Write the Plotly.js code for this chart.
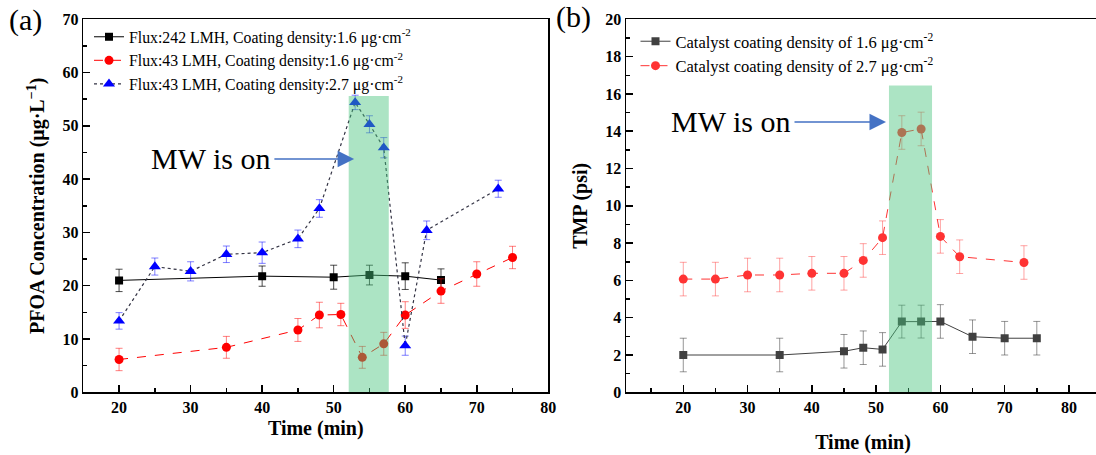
<!DOCTYPE html>
<html><head><meta charset="utf-8">
<script src="https://cdn.plot.ly/plotly-3.0.1.min.js"></script>
<style>html,body{margin:0;padding:0;overflow:hidden;background:#fff}#chart{width:1100px;height:455px}</style>
</head><body><div id="chart"></div>
<script>
// ---------- Panel (a): PFOA concentration ----------
const timeA1 = [20, 40, 50, 55, 60, 65];
const pfoaA1 = [21.0, 21.8, 21.6, 22.0, 21.8, 21.06];
const errA1  = [2.1, 1.9, 2.25, 1.85, 2.5, 2.1];
const nameA1 = 'Flux:242 LMH, Coating density:1.6 μg·cm<sup>-2</sup>';

const timeA2 = [20, 35, 45, 48, 51, 54, 57, 60, 65, 70, 75];
const pfoaA2 = [6.16, 8.44, 11.7, 14.5, 14.6, 6.56, 9.1, 14.5, 19.0, 22.2, 25.3];
const errA2  = [2.1, 2.05, 2.15, 2.4, 2.1, 2.05, 2.15, 2.5, 2.3, 2.3, 2.1];
const nameA2 = 'Flux:43 LMH, Coating density:1.6 μg·cm<sup>-2</sup>';

const timeA3 = [20, 25, 30, 35, 40, 45, 48, 53, 55, 57, 60, 63, 73];
const pfoaA3 = [13.4, 23.6, 22.7, 25.9, 26.2, 28.8, 34.5, 54.4, 50.3, 45.9, 8.75, 30.4, 38.2];
const errA3  = [1.55, 1.6, 1.8, 1.55, 2.0, 1.65, 1.65, 1.35, 1.6, 1.9, 1.8, 1.75, 1.6];
const nameA3 = 'Flux:43 LMH, Coating density:2.7 μg·cm<sup>-2</sup>';

// ---------- Panel (b): TMP ----------
const timeB1 = [20, 35, 45, 48, 51, 54, 57, 60, 65, 70, 75];
const tmpB1  = [2.0, 2.0, 2.2, 2.39, 2.3, 3.79, 3.79, 3.8, 2.98, 2.9, 2.9];
const errB1  = [0.9, 0.9, 0.9, 0.9, 0.9, 0.88, 0.88, 0.9, 0.9, 0.9, 0.9];
const nameB1 = 'Catalyst coating density of 1.6 μg·cm<sup>-2</sup>';

const timeB2 = [20, 25, 30, 35, 40, 45, 48, 51, 54, 57, 60, 63, 73];
const tmpB2  = [6.07, 6.07, 6.29, 6.29, 6.38, 6.38, 7.07, 8.29, 13.93, 14.12, 8.36, 7.27, 6.96];
const errB2  = [0.9, 0.9, 0.9, 0.9, 0.9, 0.9, 0.9, 0.9, 0.9, 0.9, 0.9, 0.9, 0.9];
const nameB2 = 'Catalyst coating density of 2.7 μg·cm<sup>-2</sup>';

// MW-on windows and annotation text
const mwA = [52.1, 57.7, 55.6];   // x0, x1, top
const mwB = [52.0, 58.7, 16.45];
const mwText = 'MW is on';

const SERIF = 'Liberation Serif, Times New Roman, serif';

function errY(arr, color) {
  return {type: 'data', array: arr, visible: true, color: color, thickness: 1, width: 3.5};
}

const traces = [
  {x: timeA1, y: pfoaA1, name: nameA1, type: 'scatter', mode: 'lines+markers', xaxis: 'x', yaxis: 'y',
   line: {color: '#000000', width: 1}, marker: {symbol: 'square', size: 8, color: '#000000'},
   error_y: errY(errA1, 'rgba(0,0,0,0.7)'), legend: 'legend'},
  {x: timeA2, y: pfoaA2, name: nameA2, type: 'scatter', mode: 'lines+markers', xaxis: 'x', yaxis: 'y',
   line: {color: '#ff0000', width: 1, dash: 'dash'}, marker: {symbol: 'circle', size: 9, color: '#ff0000'},
   error_y: errY(errA2, 'rgba(255,0,0,0.5)'), legend: 'legend'},
  {x: timeA3, y: pfoaA3, name: nameA3, type: 'scatter', mode: 'lines+markers', xaxis: 'x', yaxis: 'y',
   line: {color: '#333344', width: 1.2, dash: 'dot'}, marker: {symbol: 'triangle-up', size: 10.5, color: '#0000ff'},
   error_y: errY(errA3, 'rgba(0,0,255,0.5)'), legend: 'legend'},
  {x: timeB1, y: tmpB1, name: nameB1, type: 'scatter', mode: 'lines+markers', xaxis: 'x2', yaxis: 'y2',
   line: {color: '#404040', width: 1}, marker: {symbol: 'square', size: 8, color: '#404040'},
   error_y: errY(errB1, 'rgba(64,64,64,0.55)'), legend: 'legend2'},
  {x: timeB2, y: tmpB2, name: nameB2, type: 'scatter', mode: 'lines+markers', xaxis: 'x2', yaxis: 'y2',
   line: {color: '#ff3333', width: 1, dash: 'dash'}, marker: {symbol: 'circle', size: 9, color: '#ff3333'},
   error_y: errY(errB2, 'rgba(255,51,51,0.45)'), legend: 'legend2'}
];

const W = 1100, H = 455;
const yDom = [(H - 392.3) / H, (H - 19.3) / H];
const tickFont = {family: SERIF, size: 16, color: '#000', weight: 'bold'};
const titleFont = {family: SERIF, size: 20, color: '#000', weight: 'bold'};

function axisBase(extra) {
  return Object.assign({
    showline: true, linecolor: '#000', linewidth: 1.5, mirror: true,
    showgrid: false, zeroline: false,
    ticks: 'inside', ticklen: 7, tickwidth: 1.5, tickcolor: '#000',
    tickfont: tickFont, tick0: 0
  }, extra);
}

const layout = {
  width: W, height: H,
  margin: {l: 0, r: 0, t: 0, b: 0},
  paper_bgcolor: '#fff', plot_bgcolor: '#fff',
  font: {family: SERIF, color: '#000'},
  xaxis: axisBase({domain: [83.3 / W, 548.3 / W], range: [15, 80], dtick: 10, anchor: 'y',
    minor: {dtick: 5, ticks: 'inside', ticklen: 4, tickwidth: 1.5, tickcolor: '#000'},
    title: {text: 'Time (min)', font: titleFont, standoff: 6}}),
  yaxis: axisBase({domain: yDom, range: [0, 70], dtick: 10, anchor: 'x',
    minor: {dtick: 5, ticks: 'inside', ticklen: 4, tickwidth: 1.5, tickcolor: '#000'},
    title: {text: 'PFOA Concentration (μg·L<sup>−1</sup>)', font: titleFont, standoff: 12}}),
  xaxis2: axisBase({domain: [626 / W, 1], range: [11.09, 84.83], dtick: 10, anchor: 'y2',
    minor: {dtick: 5, ticks: 'inside', ticklen: 4, tickwidth: 1.5, tickcolor: '#000'},
    title: {text: 'Time (min)', font: titleFont, standoff: 20}}),
  yaxis2: axisBase({domain: yDom, range: [0, 20], dtick: 2, anchor: 'x2',
    minor: {dtick: 1, ticks: 'inside', ticklen: 4, tickwidth: 1.5, tickcolor: '#000'},
    title: {text: 'TMP (psi)', font: titleFont, standoff: 12}}),
  legend: {x: 89 / W, y: 1 - 20 / H, xanchor: 'left', yanchor: 'top', bgcolor: 'rgba(0,0,0,0)',
    font: {family: SERIF, size: 15.8, color: '#000'}, itemwidth: 30, tracegroupgap: 0},
  legend2: {x: 635.5 / W, y: 1 - 24 / H, xanchor: 'left', yanchor: 'top', bgcolor: 'rgba(0,0,0,0)',
    font: {family: SERIF, size: 16.5, color: '#000'}, itemwidth: 30, tracegroupgap: 0},
  shapes: [
    {type: 'rect', xref: 'x', yref: 'y', x0: mwA[0], x1: mwA[1], y0: 0, y1: mwA[2],
     fillcolor: 'rgb(70,195,125)', opacity: 0.45, line: {width: 0}, layer: 'above'},
    {type: 'rect', xref: 'x2', yref: 'y2', x0: mwB[0], x1: mwB[1], y0: 0, y1: mwB[2],
     fillcolor: 'rgb(70,195,125)', opacity: 0.45, line: {width: 0}, layer: 'above'}
  ],
  annotations: [
    {xref: 'x', yref: 'y', x: 41.4, y: 43.8, text: mwText, showarrow: false, xanchor: 'right', yanchor: 'middle',
     font: {family: SERIF, size: 30, color: '#000'}},
    {xref: 'x', yref: 'y', axref: 'x', ayref: 'y', x: 52.86, y: 43.8, ax: 41.5, ay: 43.8, text: '',
     showarrow: true, arrowhead: 2, arrowsize: 2.2, arrowwidth: 1.5, arrowcolor: '#4472c4'},
    {xref: 'x2', yref: 'y2', x: 36.9, y: 14.5, text: mwText, showarrow: false, xanchor: 'right', yanchor: 'middle',
     font: {family: SERIF, size: 30, color: '#000'}},
    {xref: 'x2', yref: 'y2', axref: 'x2', ayref: 'y2', x: 51.54, y: 14.49, ax: 37.07, ay: 14.49, text: '',
     showarrow: true, arrowhead: 2, arrowsize: 2.2, arrowwidth: 1.5, arrowcolor: '#4472c4'},
    {xref: 'paper', yref: 'paper', x: 25 / W, y: 1 - 20 / H, text: '(a)', showarrow: false,
     xanchor: 'center', yanchor: 'middle', font: {family: SERIF, size: 30, color: '#000'}},
    {xref: 'paper', yref: 'paper', x: 573 / W, y: 1 - 17 / H, text: '(b)', showarrow: false,
     xanchor: 'center', yanchor: 'middle', font: {family: SERIF, size: 30, color: '#000'}}
  ]
};

Plotly.newPlot('chart', traces, layout, {displayModeBar: false, responsive: false, staticPlot: true});
</script>
</body></html>
